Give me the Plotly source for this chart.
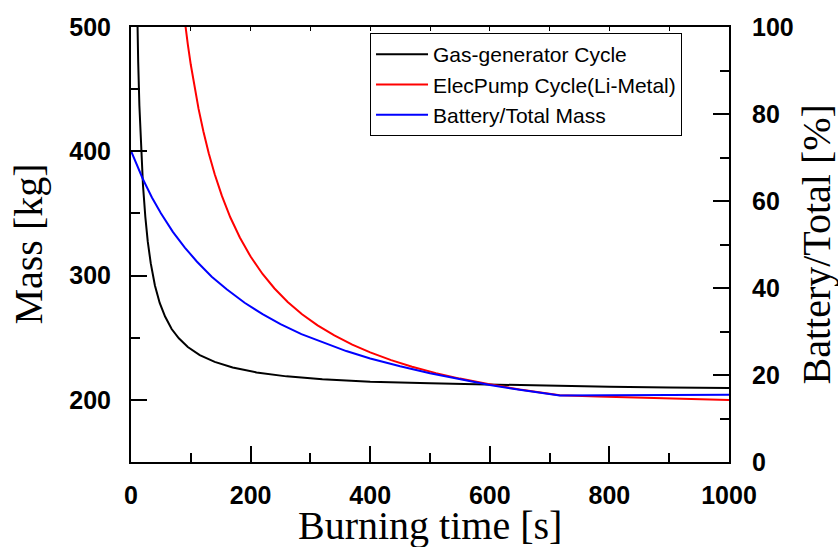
import plotly.graph_objects as go

# Gas-generator cycle: total mass [kg] vs burning time [s]
gas_t = [8, 10, 12, 14, 17, 20, 24, 28, 33, 40, 48, 57, 68, 80, 95, 115, 140, 170, 210, 260, 320, 400, 500, 600, 700, 800, 900, 1000]
gas_m = [582, 517, 472, 437, 400, 373, 347, 327.5, 310, 292, 278, 267, 257, 249.5, 242.5, 236, 230.6, 226.1, 222.1, 218.9, 216.5, 214.6, 213.3, 212.2, 211.2, 210.5, 209.9, 209.6]

# Electric pump cycle (Li-Metal): total mass [kg]
elec_t = [85, 88, 91, 95, 100, 106, 113, 121, 130, 140, 152, 166, 182, 200, 220, 240, 262, 286, 312, 340, 370, 400, 435, 470, 510, 550, 597, 650, 717, 780, 850, 920, 1000]
elec_m = [524, 511.7, 500, 486, 469.6, 452.2, 434.1, 416.1, 398.4, 381.5, 364.1, 346.9, 330.6, 315.3, 301.3, 289.6, 278.8, 268.9, 259.9, 251.8, 244.4, 238.2, 232.0, 226.7, 221.5, 217.1, 212.7, 208.4, 203.7, 202.8, 201.8, 200.8, 199.8]

# Battery / total mass [%]
batt_t = [0, 10, 20, 35, 50, 70, 90, 110, 135, 160, 190, 220, 250, 285, 320, 360, 400, 450, 500, 550, 600, 650, 717, 800, 900, 1000]
batt_p = [71.5, 68.1, 65.0, 60.8, 57.2, 52.9, 49.3, 46.1, 42.6, 39.7, 36.6, 34.0, 31.7, 29.4, 27.5, 25.5, 23.8, 22.0, 20.4, 19.0, 17.7, 16.6, 15.3, 15.35, 15.4, 15.45]

names = ["Gas-generator Cycle", "ElecPump Cycle(Li-Metal)", "Battery/Total Mass"]

fig = go.Figure()
fig.add_trace(go.Scatter(x=gas_t, y=gas_m, mode="lines", name=names[0],
                         line=dict(color="black", width=2)))
fig.add_trace(go.Scatter(x=elec_t, y=elec_m, mode="lines", name=names[1],
                         line=dict(color="#ff0000", width=2)))
fig.add_trace(go.Scatter(x=batt_t, y=batt_p, mode="lines", name=names[2], yaxis="y2",
                         line=dict(color="#0000ff", width=2)))
# helper trace so the top (mirror) axis is drawn
fig.add_trace(go.Scatter(x=[0, 1000], y=[None, None], xaxis="x2", mode="lines",
                         showlegend=False, hoverinfo="skip"))

tickfont = dict(family="Liberation Sans, Arial", size=25, color="black", weight="bold")
titlefont = dict(family="Liberation Serif, Times New Roman", size=40, color="black")

fig.update_layout(
    width=838, height=547,
    margin=dict(l=131, r=109, t=27, b=85, autoexpand=False),
    paper_bgcolor="white", plot_bgcolor="white",
    showlegend=True,
    legend=dict(x=0.3997, y=0.986, xanchor="left", yanchor="top",
                bgcolor="white", bordercolor="black", borderwidth=1,
                font=dict(family="Liberation Sans, Arial", size=21, color="black"),
                tracegroupgap=0, itemwidth=52),
    xaxis=dict(range=[0, 1000], dtick=200, tick0=0, showgrid=False, zeroline=False,
               showline=True, linecolor="black", linewidth=2,
               ticks="inside", ticklen=16, tickwidth=2, tickcolor="black",
               minor=dict(dtick=100, ticks="inside", ticklen=9, tickwidth=2, tickcolor="black"),
               tickfont=tickfont, ticklabelstandoff=10, automargin=False),
    xaxis2=dict(range=[0, 1000], overlaying="x", side="top", showgrid=False, zeroline=False,
                showline=True, linecolor="black", linewidth=2,
                ticks="inside", ticklen=4, tickwidth=1, tickcolor="black", dtick=100,
                showticklabels=False, automargin=False),
    yaxis=dict(range=[150, 500], dtick=100, tick0=200, showgrid=False, zeroline=False,
               showline=True, linecolor="black", linewidth=2,
               ticks="inside", ticklen=16, tickwidth=2, tickcolor="black",
               minor=dict(dtick=50, tick0=200, ticks="inside", ticklen=9, tickwidth=2, tickcolor="black"),
               tickfont=tickfont, ticklabelstandoff=13, automargin=False),
    yaxis2=dict(range=[0, 100], dtick=20, overlaying="y", side="right", showgrid=False, zeroline=False,
                showline=True, linecolor="black", linewidth=2,
                ticks="inside", ticklen=16, tickwidth=2, tickcolor="black",
                minor=dict(dtick=10, ticks="inside", ticklen=9, tickwidth=2, tickcolor="black"),
                tickfont=tickfont, ticklabelstandoff=16, automargin=False),
    annotations=[
        dict(text="Burning time [s]", x=0.5, y=-0.147, xref="paper", yref="paper",
             xanchor="center", yanchor="middle", showarrow=False, font=titlefont),
        dict(text="Mass [kg]", x=-0.1722, y=0.5, xref="paper", yref="paper", textangle=-90,
             xanchor="center", yanchor="middle", showarrow=False, font=titlefont),
        dict(text="Battery/Total [%]", x=1.1455, y=0.5, xref="paper", yref="paper", textangle=-90,
             xanchor="center", yanchor="middle", showarrow=False, font=titlefont),
    ],
)

fig.write_html("out.html", config={"displayModeBar": False},
               post_script="document.body.style.margin='0';document.body.style.overflow='hidden';")
